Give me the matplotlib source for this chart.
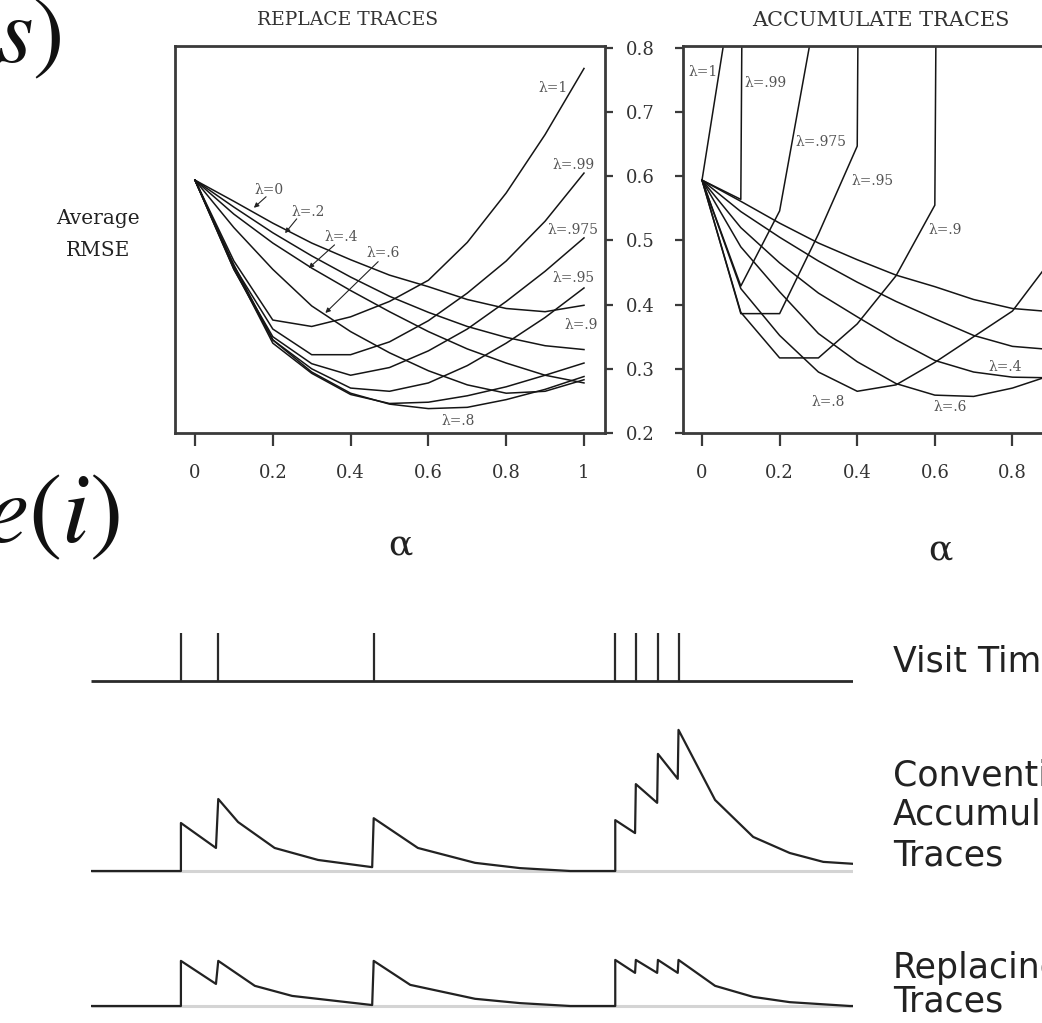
import matplotlib
matplotlib.use("Agg")
import matplotlib.pyplot as plt

plt.rcParams["font.family"] = "DejaVu Serif"

# ---- data: average RMSE vs alpha, one list per lambda ----
alphas = [0.0, 0.1, 0.2, 0.3, 0.4, 0.5, 0.6, 0.7, 0.8, 0.9, 1.0]

replace_rmse = {
    "0":    [.594, .561, .527, .496, .470, .446, .428, .408, .394, .389, .399],
    ".2":   [.594, .552, .512, .476, .443, .413, .388, .366, .349, .336, .330],
    ".4":   [.594, .541, .496, .457, .422, .389, .358, .331, .309, .290, .278],
    ".6":   [.594, .520, .455, .398, .358, .325, .297, .275, .262, .265, .283],
    ".8":   [.594, .462, .345, .295, .262, .245, .238, .240, .252, .268, .288],
    ".9":   [.594, .458, .340, .293, .260, .246, .248, .258, .272, .290, .309],
    ".95":  [.594, .455, .345, .300, .270, .265, .278, .305, .340, .380, .426],
    ".975": [.594, .455, .350, .308, .290, .302, .328, .362, .405, .452, .504],
    ".99":  [.594, .460, .362, .322, .322, .342, .375, .418, .468, .530, .605],
    "1":    [.594, .468, .376, .366, .381, .405, .438, .497, .574, .665, .768],
}

# accumulating traces blow up for large lambda (values beyond the top of the plot)
accum_rmse = {
    "0":    [.594, .561, .527, .496, .470, .446, .428, .408, .394, .389, .399],
    ".2":   [.594, .545, .505, .468, .435, .405, .378, .352, .335, .330, .335],
    ".4":   [.594, .520, .465, .418, .381, .345, .313, .295, .287, .286, .292],
    ".6":   [.594, .490, .420, .355, .311, .277, .259, .257, .270, .290, .318],
    ".8":   [.594, .425, .352, .295, .265, .275, .310, .350, .390, .470, .580],
    ".9":   [.594, .388, .317, .317, .370, .445, .555, 10.0],
    ".95":  [.594, .386, .386, .510, .647, 10.0],
    ".975": [.594, .429, .546, .880],
    ".99":  [.594, .564, 10.0],
    "1":    [.594, .975],
}

rmse_ticks = [0.2, 0.3, 0.4, 0.5, 0.6, 0.7, 0.8]
alpha_ticks = [0, 0.2, 0.4, 0.6, 0.8, 1]
alpha_ticklabels = ["0", "0.2", "0.4", "0.6", "0.8", "1"]

# curve labels (text, alpha, rmse)
replace_labels = [("λ=1", .882, .737), ("λ=.99", .918, .618), ("λ=.975", .905, .516),
                  ("λ=.95", .920, .441), ("λ=.9", .950, .368), ("λ=.8", .634, .218),
                  ("λ=0", .154, .579), ("λ=.2", .249, .545), ("λ=.4", .334, .506),
                  ("λ=.6", .441, .480)]
replace_arrows = [((.188, .571), (.146, .548)), ((.266, .537), (.227, .508)),
                  ((.364, .496), (.287, .454)), ((.476, .470), (.330, .384))]
accum_labels = [("λ=1", -.036, .763), ("λ=.99", .110, .745), ("λ=.975", .240, .654),
                ("λ=.95", .386, .592), ("λ=.9", .583, .516), ("λ=.8", .283, .249),
                ("λ=.6", .596, .241), ("λ=.4", .737, .303)]

# ---- data: eligibility trace illustration ----
visit_times = [11.8, 16.7, 37.1, 68.8, 71.5, 74.4, 77.1]

accum_t = [0, 11.8, 11.8, 16.4, 16.7, 19.3, 24.1, 29.8, 36.9, 37.1, 42.9, 50.4, 56.3,
           62.9, 68.8, 68.8, 71.4, 71.5, 74.3, 74.4, 77.0, 77.1, 81.9, 86.9, 91.7, 96.1, 100]
accum_e = [0, 0, 1.0, 0.48, 1.5, 1.02, 0.48, 0.23, 0.08, 1.1, 0.48, 0.17, 0.06,
           0, 0, 1.06, 0.79, 1.81, 1.42, 2.44, 1.92, 2.94, 1.48, 0.71, 0.375, 0.19, 0.15]

replace_t = [0, 11.8, 11.8, 16.4, 16.7, 21.5, 26.4, 36.9, 37.1, 41.9, 50.4, 56.3, 62.9,
             68.8, 68.8, 71.4, 71.5, 74.3, 74.4, 77.0, 77.1, 81.9, 86.9, 91.7, 99.6, 100]
replace_e = [0, 0, 0.94, 0.46, 0.94, 0.42, 0.21, 0.02, 0.94, 0.44, 0.15, 0.06, 0,
             0, 0.96, 0.69, 0.96, 0.69, 0.96, 0.69, 0.96, 0.42, 0.19, 0.08, 0, 0]

# ---- figure ----
W, H = 1042, 1023
fig = plt.figure(figsize=(W / 100, H / 100), dpi=100)
SPINE = "#3a3a3a"
INK = "#151515"


def px_axes(x0, y0, x1, y1):
    return fig.add_axes([x0 / W, 1 - y1 / H, (x1 - x0) / W, (y1 - y0) / H])


def fx(x):
    return x / W


def fy(y):
    return 1 - y / H


def rmse_panel(ax, data, labels):
    for s in ax.spines.values():
        s.set_color(SPINE)
        s.set_linewidth(2.0)
    for key, vals in data.items():
        ax.plot(alphas[:len(vals)], vals, color=INK, lw=1.1)
    for txt, a, v in labels:
        ax.text(a, v, txt, fontsize=10, color="#555555", ha="left", va="center")
    ax.set_ylim(0.2, 0.803)
    ax.set_xticks(alpha_ticks)
    ax.set_xticklabels(alpha_ticklabels)
    ax.set_yticks(rmse_ticks)
    ax.tick_params(axis="x", direction="out", length=9, width=1.6, color=SPINE,
                   pad=13, labelsize=13, labelcolor="#333333")


ax1 = px_axes(175, 46, 605, 433)
rmse_panel(ax1, replace_rmse, replace_labels)
ax1.set_xlim(-0.0514, 1.054)
for tail, tip in replace_arrows:
    ax1.annotate("", xy=tip, xytext=tail,
                 arrowprops=dict(arrowstyle="-|>", lw=0.8, color="#222222", mutation_scale=7))
ax1.tick_params(axis="y", left=False, right=True, labelleft=False, labelright=True,
                direction="out", length=6, width=1.6, color=SPINE, pad=9,
                labelsize=13, labelcolor="#333333")

ax2 = px_axes(683, 46, 1111, 433)
rmse_panel(ax2, accum_rmse, accum_labels)
ax2.set_xlim(-0.049, 1.054)
ax2.tick_params(axis="y", left=True, right=False, labelleft=False, labelright=False,
                direction="out", length=6, width=1.6, color=SPINE)

fig.text(fx(348), fy(20), "REPLACE TRACES", ha="center", va="center",
         fontsize=13.5, color="#333333")
fig.text(fx(752), fy(20), "ACCUMULATE TRACES", ha="left", va="center",
         fontsize=15, color="#333333")
fig.text(fx(98), fy(218), "Average", ha="center", va="center", fontsize=14.5, color="#222222")
fig.text(fx(98), fy(250), "RMSE", ha="center", va="center", fontsize=14.5, color="#222222")
fig.text(fx(400), fy(545), "α", ha="center", va="center", fontsize=26, color="#222222")
fig.text(fx(940), fy(550), "α", ha="center", va="center", fontsize=26, color="#222222")

# large formula fragments at the left edge
fig.text(fx(-4), fy(62), r"$s)$", ha="left", va="baseline", fontsize=68,
         math_fontfamily="stix", color="#111111")
fig.text(fx(-16), fy(542), r"$e(i)$", ha="left", va="baseline", fontsize=72,
         math_fontfamily="stix", color="#111111")

# ---- trace rows ----
UNIT = 48.0  # pixels per unit of trace height


def trace_row(base_y, top_y, bottom_y):
    ax = px_axes(91, top_y, 853, bottom_y)
    ax.set_xlim(0, 100)
    ax.set_ylim((base_y - bottom_y) / UNIT, (base_y - top_y) / UNIT)
    ax.axis("off")
    return ax


row1 = trace_row(681, 625, 690)
row1.plot([0, 100], [0, 0], color="#2a2a2a", lw=2.0, solid_capstyle="butt")
row1.vlines(visit_times, 0, 1, color="#2a2a2a", lw=1.6)

row2 = trace_row(871, 720, 880)
row2.plot([0, 100], [0, 0], color="#d4d4d4", lw=2.2, solid_capstyle="butt")
row2.plot(accum_t, accum_e, color="#222222", lw=1.6)

row3 = trace_row(1006, 950, 1016)
row3.plot([0, 100], [0, 0], color="#d4d4d4", lw=2.2, solid_capstyle="butt")
row3.plot(replace_t, replace_e, color="#222222", lw=1.6)

sans = dict(family="DejaVu Sans", fontsize=25, color="#222222", ha="left", va="center")
fig.text(fx(893), fy(662), "Visit Times", **sans)
fig.text(fx(893), fy(775), "Conventional", **sans)
fig.text(fx(893), fy(815), "Accumulating", **sans)
fig.text(fx(893), fy(855), "Traces", **sans)
fig.text(fx(893), fy(968), "Replacing", **sans)
fig.text(fx(893), fy(1001), "Traces", **sans)

fig.savefig("out.png", dpi=100)
